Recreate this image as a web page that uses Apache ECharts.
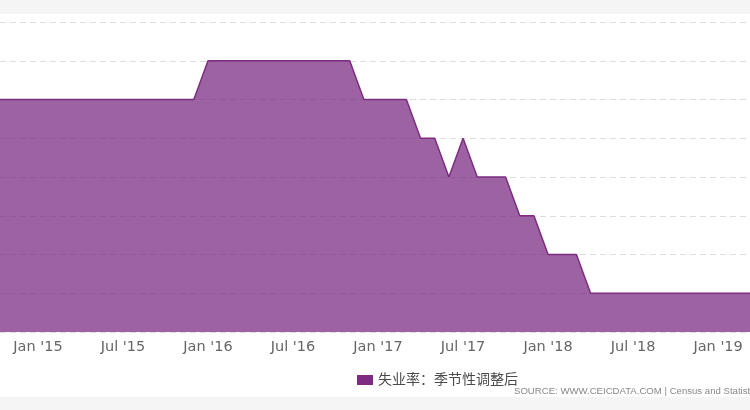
<!DOCTYPE html>
<html>
<head>
<meta charset="utf-8">
<script src="https://cdn.jsdelivr.net/npm/echarts@6/dist/echarts.min.js"></script>
<style>
html,body{margin:0;padding:0;background:#fff;}
#c{width:750px;height:410px;}
</style>
</head>
<body>
<div id="c"></div>
<script>
const months = [
 '2014-10','2014-11','2014-12',
 '2015-01','2015-02','2015-03','2015-04','2015-05','2015-06','2015-07','2015-08','2015-09','2015-10','2015-11','2015-12',
 '2016-01','2016-02','2016-03','2016-04','2016-05','2016-06','2016-07','2016-08','2016-09','2016-10','2016-11','2016-12',
 '2017-01','2017-02','2017-03','2017-04','2017-05','2017-06','2017-07','2017-08','2017-09','2017-10','2017-11','2017-12',
 '2018-01','2018-02','2018-03','2018-04','2018-05','2018-06','2018-07','2018-08','2018-09','2018-10','2018-11','2018-12',
 '2019-01','2019-02','2019-03','2019-04'
];
const unemploymentSA = [
 3.3,3.3,3.3,
 3.3,3.3,3.3,3.3,3.3,3.3,3.3,3.3,3.3,3.3,3.3,3.3,
 3.4,3.4,3.4,3.4,3.4,3.4,3.4,3.4,3.4,3.4,3.4,3.3,
 3.3,3.3,3.3,3.2,3.2,3.1,3.2,3.1,3.1,3.1,3.0,3.0,
 2.9,2.9,2.9,2.8,2.8,2.8,2.8,2.8,2.8,2.8,2.8,2.8,
 2.8,2.8,2.8,2.8
];
const tickMonths = ['2015-01','2015-07','2016-01','2016-07','2017-01','2017-07','2018-01','2018-07','2019-01'];
const tickLabels = ["Jan '15","Jul '15","Jan '16","Jul '16","Jan '17","Jul '17","Jan '18","Jul '18","Jan '19"];
const seriesName = '失业率：季节性调整后';
const sourceText = 'SOURCE: WWW.CEICDATA.COM | Census and Statistics Department';

function monthIndex(s){ const p = s.split('-'); return (+p[0]-2015)*12 + (+p[1]-1); }
const data = months.map((m,i)=>[monthIndex(m), unemploymentSA[i]]);
const tickIdx = tickMonths.map(monthIndex);

const FONT = "'DejaVu Sans', 'Noto Sans CJK SC', sans-serif";
const chart = echarts.init(document.getElementById('c'), null, {renderer:'canvas'});
chart.setOption({
  animation:false,
  backgroundColor:'#ffffff',
  grid:{left:0,right:0,top:22,bottom:78,containLabel:false},
  xAxis:{
    type:'value', min:-2.68, max:50.25,
    axisLine:{show:false}, axisTick:{show:false}, splitLine:{show:false},
    axisLabel:{
      customValues: tickIdx,
      formatter:function(v){ const k = tickIdx.indexOf(Math.round(v)); return k>=0?tickLabels[k]:''; },
      color:'#666', fontSize:14.5, fontFamily:FONT, margin:8
    }
  },
  yAxis:{
    type:'value', min:2.7, max:3.5, interval:0.1,
    axisLabel:{show:false}, axisLine:{show:false}, axisTick:{show:false},
    splitLine:{show:true, lineStyle:{color:'#dcdcdc', type:[6,4], width:1}}
  },
  legend:{
    left:352, top:368, icon:'rect', itemWidth:16, itemHeight:10, itemGap:5,
    textStyle:{color:'#4a4a4a', fontSize:14, fontFamily:FONT},
    data:[seriesName]
  },
  graphic:[
    {type:'rect', left:0, top:0, shape:{width:750,height:14}, style:{fill:'#f5f5f5'}, silent:true, z:-1},
    {type:'rect', left:0, top:397, shape:{width:750,height:13}, style:{fill:'#f5f5f5'}, silent:true, z:-1},
    {type:'text', left:514, top:386, style:{text:sourceText, fill:'#888', font:"9.6px 'Liberation Sans', sans-serif"}, silent:true}
  ],
  series:[{
    name:seriesName, type:'line', data:data, symbol:'none', clip:true,
    lineStyle:{color:'#7c2d82', width:1.5},
    itemStyle:{color:'#7c2d82'},
    areaStyle:{color:'#7c2d82', opacity:0.75}
  }]
});
</script>
</body>
</html>
